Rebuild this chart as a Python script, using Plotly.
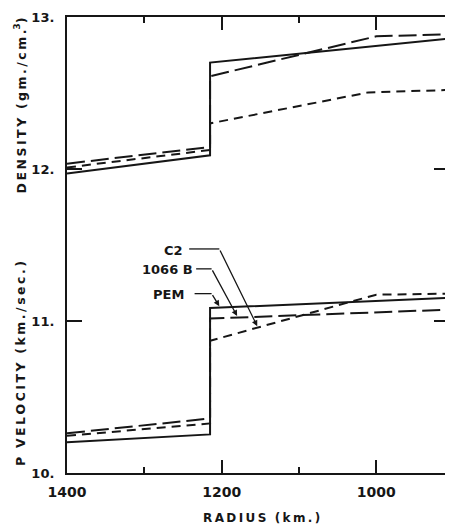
import numpy as np
import plotly.graph_objects as go

# ---- data ----
radius_pem = [1400, 1215, 1215, 905]
density_pem = [11.97, 12.09, 12.70, 12.858]
vp_pem = [10.202, 10.254, 11.085, 11.153]

radius_1066b_rho = [1400, 1215, 1215, 1000, 905]
density_1066b = [12.035, 12.145, 12.61, 12.873, 12.887]
radius_1066b_vp = [1400, 1215, 1215, 905]
vp_1066b = [10.261, 10.359, 11.016, 11.075]

radius_c2_rho = [1400, 1215, 1215, 1010, 905]
density_c2 = [12.01, 12.125, 12.30, 12.504, 12.52]
radius_c2_vp = [1400, 1215, 1215, 1000, 905]
vp_c2 = [10.245, 10.326, 10.87, 11.173, 11.18]

x_tickvals = [1400, 1200, 1000]
x_ticktext = ["1400", "1200", "1000"]
x_minor = [1300, 1100]
y_tickvals = [10, 11, 12, 13]
y_ticktext = ["10.", "11.", "12.", "13."]

INK = "#161616"
FONT = "DejaVu Sans"
LONG = "18px,6px"
SHORT = "9px,6px"

fig = go.Figure()

def add(x, y, dash):
    fig.add_trace(go.Scatter(x=x, y=y, mode="lines",
                             line=dict(color=INK, width=2, dash=dash),
                             showlegend=False, hoverinfo="skip"))

add(radius_pem, density_pem, "solid")
add(radius_pem, vp_pem, "solid")
add(radius_1066b_rho, density_1066b, LONG)
add(radius_1066b_vp, vp_1066b, LONG)
add(radius_c2_rho, density_c2, SHORT)
add(radius_c2_vp, vp_c2, SHORT)

def spaced(s):
    return "\u2009".join(list(s))

ann = []
# axis titles
ann.append(dict(text="<b>" + spaced("DENSITY") + "  " + spaced("(gm./cm.") + "<sup>3</sup>)</b>",
                xref="paper", yref="paper", x=-0.122, y=0.807, textangle=-90,
                showarrow=False, font=dict(family=FONT, size=12.5, color=INK),
                xanchor="center", yanchor="middle"))
ann.append(dict(text="<b>P  " + spaced("VELOCITY") + "  " + spaced("(km./sec.)") + "</b>",
                xref="paper", yref="paper", x=-0.122, y=0.24, textangle=-90,
                showarrow=False, font=dict(family=FONT, size=12.5, color=INK),
                xanchor="center", yanchor="middle"))
ann.append(dict(text="<b>" + spaced("RADIUS") + "  " + spaced("(km.)") + "</b>",
                xref="paper", yref="paper", x=0.508, y=-0.098,
                showarrow=False, font=dict(family=FONT, size=12, color=INK),
                xanchor="center", yanchor="middle"))

# model labels with leader lines
labels = [
    # name, text r, text v, line start r, elbow r, elbow v, tip r, series r, series v
    ("C2", 1262, 11.461, 1242, 1203, 11.474, 1154, radius_c2_vp, vp_c2),
    ("1066 B", 1270, 11.336, 1233, 1213, 11.343, 1180, radius_1066b_vp, vp_1066b),
    ("PEM", 1269, 11.173, 1235, 1213, 11.18, 1203, radius_pem, vp_pem),
]
shapes = []
for name, tr, tv, sr, er, ev, tipr, sx, sy in labels:
    ann.append(dict(text="<b>" + name + "</b>", x=tr, y=tv, xref="x", yref="y",
                    showarrow=False, font=dict(family=FONT, size=13, color=INK),
                    xanchor="center", yanchor="middle"))
    shapes.append(dict(type="line", xref="x", yref="y", x0=sr, y0=ev, x1=er, y1=ev,
                       line=dict(color=INK, width=1.3)))
    # tip on the upper branch of the series
    xs = np.array(sx[2:], dtype=float)[::-1]
    ys = np.array(sy[2:], dtype=float)[::-1]
    tipv = float(np.interp(tipr, xs, ys)) + 0.01
    ann.append(dict(text="", x=tipr, y=tipv, xref="x", yref="y",
                    ax=er, ay=ev, axref="x", ayref="y", showarrow=True,
                    arrowhead=2, arrowsize=0.9, arrowwidth=1.3, arrowcolor=INK))

# the page body has an 8px margin; size the figure so it fills the window
fig.update_layout(
    width=445, height=518,
    margin=dict(l=59, r=2, t=7, b=53),
    paper_bgcolor="white", plot_bgcolor="white",
    annotations=ann, shapes=shapes,
    font=dict(family=FONT, color=INK),
)
fig.update_xaxes(range=[1400, 906], tickvals=x_tickvals,
                 ticktext=["<b>" + t + "</b>" for t in x_ticktext],
                 ticks="inside", ticklen=13, tickwidth=2, tickcolor=INK,
                 minor=dict(tickvals=x_minor, ticks="inside", ticklen=6, tickwidth=2, tickcolor=INK),
                 showline=True, linewidth=2, linecolor=INK, mirror="allticks",
                 showgrid=False, zeroline=False, ticklabeloverflow="allow",
                 tickfont=dict(family=FONT, size=14, color=INK), ticklabelstandoff=5)
fig.update_yaxes(range=[10, 13], tickvals=y_tickvals,
                 ticktext=["<b>" + t + "</b>" for t in y_ticktext],
                 ticks="inside", ticklen=15, tickwidth=2, tickcolor=INK,
                 showline=True, linewidth=2, linecolor=INK, mirror="allticks",
                 showgrid=False, zeroline=False, ticklabeloverflow="allow",
                 tickfont=dict(family=FONT, size=13, color=INK), ticklabelstandoff=8)

fig.write_html("out.html")
